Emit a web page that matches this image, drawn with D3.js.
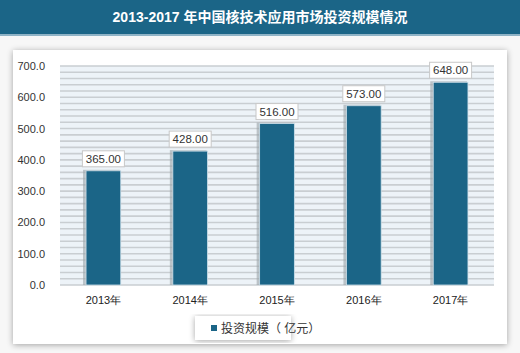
<!DOCTYPE html>
<html>
<head>
<meta charset="utf-8">
<script src="https://cdn.jsdelivr.net/npm/d3@7"></script>
<style>
  body { margin: 0; background: #f7f7f7; }
  svg { display: block; font-family: "Liberation Sans", "Noto Sans CJK SC", sans-serif; }
</style>
</head>
<body>
<svg class="chart"></svg>
<script>
const years = ["2013年", "2014年", "2015年", "2016年", "2017年"];
const invest = [365, 428, 516, 573, 648];
const yTicks = [0, 100, 200, 300, 400, 500, 600, 700];
const gridStep = 20;
const titleText = "2013-2017 年中国核技术应用市场投资规模情况";
const legendText = "投资规模（ 亿元）";

const W = 520, H = 353;
const margin = {top: 66, right: 26, bottom: 68, left: 60},
  width = W - margin.left - margin.right,
  height = H - margin.top - margin.bottom;

const svg = d3.select(".chart")
  .attr("width", W)
  .attr("height", H);

const defs = svg.append("defs");
const sh = defs.append("filter").attr("id", "shadow")
  .attr("x", "-10%").attr("y", "-10%").attr("width", "120%").attr("height", "120%");
sh.append("feGaussianBlur").attr("in", "SourceAlpha").attr("stdDeviation", 3);
sh.append("feOffset").attr("dx", 0).attr("dy", 1).attr("result", "b");
sh.append("feComponentTransfer").append("feFuncA").attr("type", "linear").attr("slope", 0.35);
const m = sh.append("feMerge");
m.append("feMergeNode");
m.append("feMergeNode").attr("in", "SourceGraphic");

// title bar
svg.append("rect").attr("x", 0).attr("y", 0).attr("width", W).attr("height", 34).attr("fill", "#1b6587");
svg.append("rect").attr("x", 0).attr("y", 34).attr("width", W).attr("height", 2).attr("fill", "#8fb3c6");
svg.append("text")
  .attr("x", W / 2).attr("y", 22)
  .attr("text-anchor", "middle")
  .attr("fill", "#fff")
  .attr("font-size", 14)
  .attr("font-weight", "bold")
  .text(titleText);

// panel
svg.append("rect")
  .attr("x", 13).attr("y", 50).attr("width", 494).attr("height", 294)
  .attr("fill", "#fff")
  .attr("filter", "url(#shadow)");

const xScale = d3.scaleBand()
  .domain(years)
  .range([0, width])
  .paddingInner(0.6)
  .paddingOuter(0.3);

const yScale = d3.scaleLinear()
  .domain([0, 700])
  .range([height, 0]);

const g = svg.append("g").attr("transform", `translate(${margin.left},${margin.top})`);

// plot background + grid
g.append("rect").attr("width", width).attr("height", height).attr("fill", "#edf3f8");
g.selectAll(".grid")
  .data(d3.range(0, 700 + gridStep, gridStep))
  .enter().append("line")
    .attr("x1", 0).attr("x2", width)
    .attr("y1", d => yScale(d)).attr("y2", d => yScale(d))
    .attr("stroke", "#c9ced2")
    .attr("stroke-width", 1.6);

const yAxis = d3.axisLeft(yScale).tickValues(yTicks).tickFormat(d3.format(".1f")).tickSize(0).tickPadding(15);
g.append("g").call(yAxis)
  .call(a => a.select(".domain").remove())
  .selectAll("text").attr("font-size", 11).attr("fill", "#333");

const xAxis = d3.axisBottom(xScale).tickSize(0).tickPadding(11);
g.append("g").attr("transform", `translate(0,${height})`).call(xAxis)
  .call(a => a.select(".domain").remove())
  .selectAll("text").attr("font-size", 11).attr("fill", "#222");

// bar shadows
g.selectAll(".bshadow")
  .data(invest)
  .enter().append("rect")
    .attr("x", (d, i) => xScale(years[i]) - 3)
    .attr("y", d => yScale(d) - 1)
    .attr("width", xScale.bandwidth() + 2)
    .attr("height", d => height - yScale(d) + 1)
    .attr("fill", "#9aa3a8")
    .attr("opacity", 0.6);

g.selectAll(".bar")
  .data(invest)
  .enter().append("rect")
    .attr("x", (d, i) => xScale(years[i]))
    .attr("y", d => yScale(d))
    .attr("width", xScale.bandwidth())
    .attr("height", d => height - yScale(d))
    .attr("fill", "#1b6587")
    .attr("stroke", "#cfe0ea")
    .attr("stroke-width", 0.8);

// value labels
const lab = g.selectAll(".lab")
  .data(invest)
  .enter().append("g")
    .attr("transform", (d, i) => `translate(${xScale(years[i]) + xScale.bandwidth() / 2},${yScale(d) - 4})`);
lab.append("rect")
  .attr("x", -21).attr("y", -16).attr("width", 42).attr("height", 16)
  .attr("fill", "#fff").attr("stroke", "#c8c8c8");
lab.append("text")
  .attr("text-anchor", "middle").attr("y", -4)
  .attr("font-size", 11.5).attr("fill", "#333")
  .text(d => d3.format(".2f")(d));

// legend
const lg = svg.append("g").attr("transform", "translate(195,316)");
lg.append("rect").attr("width", 96).attr("height", 24).attr("fill", "#fff").attr("filter", "url(#shadow)");
lg.append("rect").attr("x", 16).attr("y", 9).attr("width", 6).attr("height", 6).attr("fill", "#1b6587");
lg.append("text").attr("x", 26).attr("y", 16.5).attr("font-size", 12).attr("fill", "#333").text(legendText);
</script>
</body>
</html>
